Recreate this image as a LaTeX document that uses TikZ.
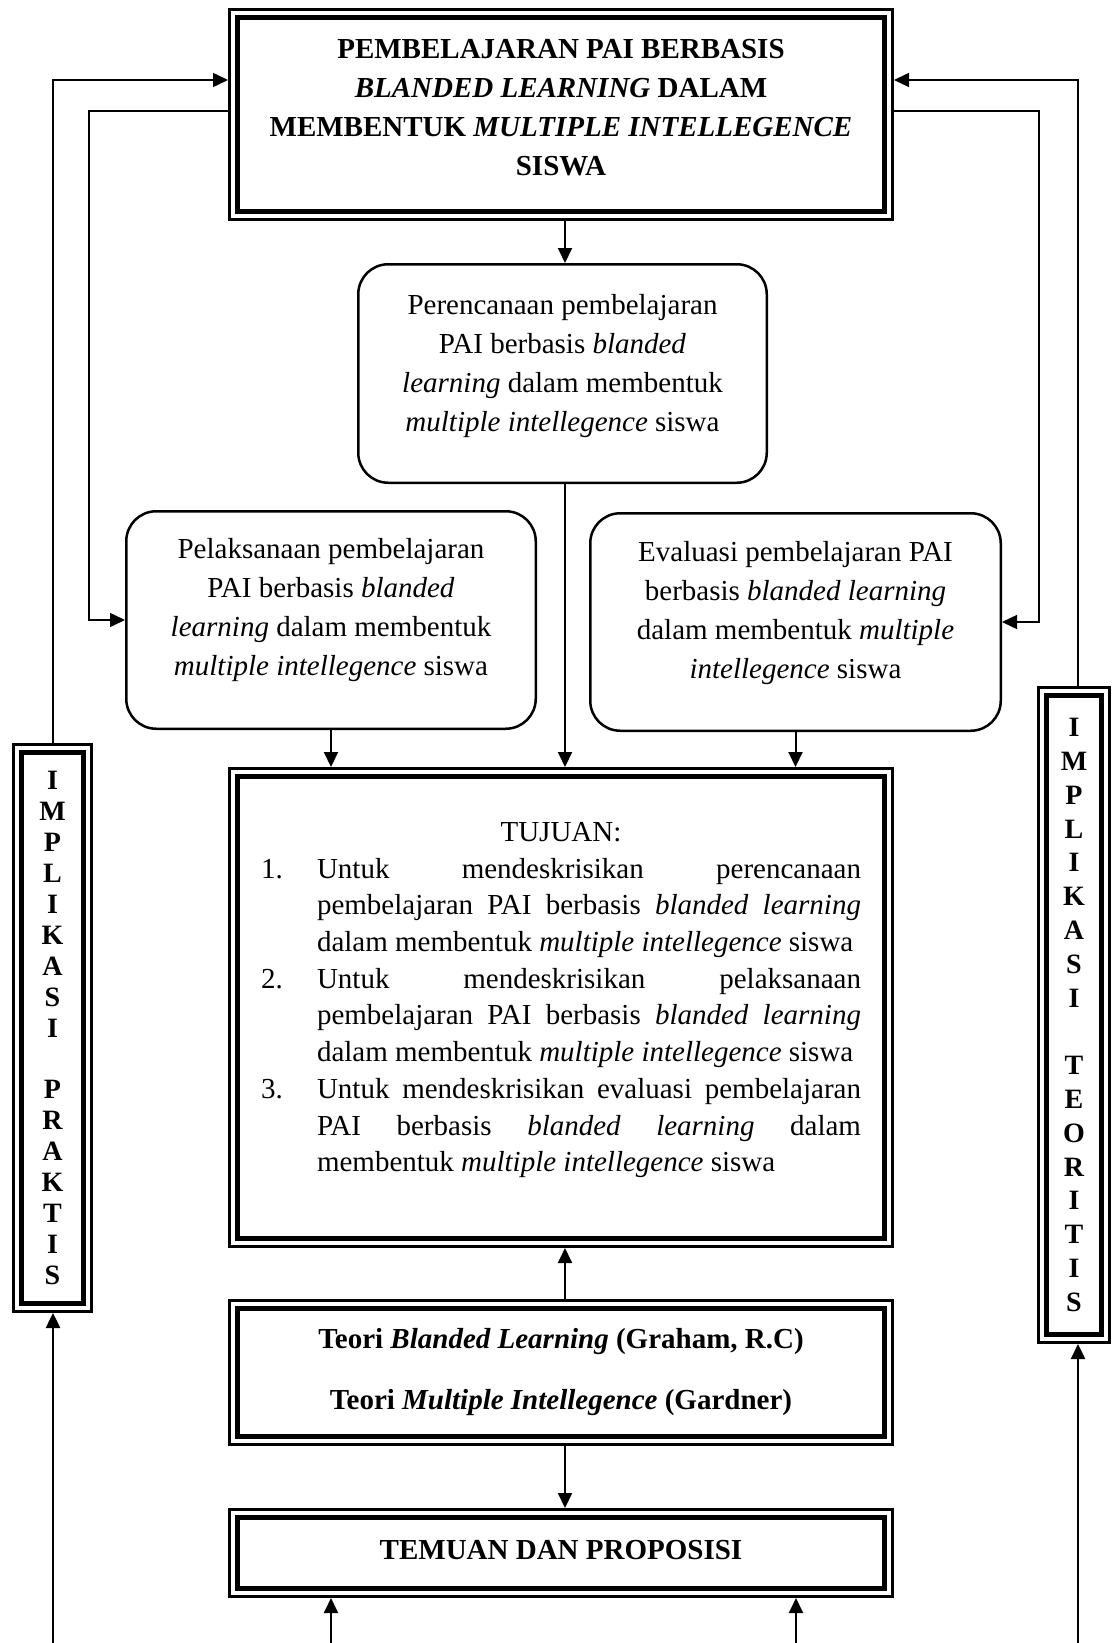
\documentclass[tikz,border=0pt]{standalone}
\usepackage{fontspec}
\setmainfont{Liberation Serif}
\usetikzlibrary{arrows.meta}
\newcommand\tjitem[1]{\par\noindent\hangindent=56pt\hangafter=1\makebox[56pt][l]{#1}\ignorespaces}
\newcommand\padb[1]{\rule[-#1pt]{0pt}{#1pt}}
\begin{document}
\begin{tikzpicture}[x=1pt, y=-1pt,
  font=\fontsize{29}{39}\selectfont,
  dbox/.style={draw, line width=4.5pt, outer sep=9.5pt, inner sep=0pt, align=center},
  rbox/.style={draw, line width=2.5pt, rounded corners=30pt, inner sep=0pt, align=center},
  tipa/.style={-{Triangle[length=15pt,width=14pt]}},
  arr/.style={line width=2pt, tipa},
  fb/.style={line width=1.5pt}]
\fill[white] (0,0) rectangle (1113,1643);
\useasboundingbox (0,0) rectangle (1113,1643);

% main boxes
\node[dbox, minimum width=647pt, minimum height=194pt, font=\fontsize{29}{39}\selectfont\bfseries] (top) at (561,114.5)
  {PEMBELAJARAN PAI BERBASIS\\ \textit{BLANDED LEARNING} DALAM\\ MEMBENTUK \textit{MULTIPLE INTELLEGENCE}\\ SISWA\padb{14}};

\node[rbox, minimum width=408.5pt, minimum height=218.5pt] (pere) at (562.5,373.5)
  {Perencanaan pembelajaran\\ PAI berbasis \textit{blanded}\\ \textit{learning} dalam membentuk\\ \textit{multiple intellegence} siswa\padb{21}};

\node[rbox, minimum width=409.5pt, minimum height=217.5pt] (pela) at (331,620)
  {Pelaksanaan pembelajaran\\ PAI berbasis \textit{blanded}\\ \textit{learning} dalam membentuk\\ \textit{multiple intellegence} siswa\padb{27}};

\node[rbox, minimum width=410.5pt, minimum height=217.5pt] (eval) at (795.5,622)
  {Evaluasi pembelajaran PAI\\ berbasis \textit{blanded learning}\\ dalam membentuk \textit{multiple}\\ \textit{intellegence} siswa\padb{25}};

\node[dbox, minimum width=647pt, minimum height=462pt] (tuj) at (561,1007.5)
  {\begin{minipage}{600pt}
   \fontsize{29}{36.7}\selectfont
   \tolerance=10000 \hyphenpenalty=10000 \exhyphenpenalty=10000 \parindent=0pt
   {\centering TUJUAN:\par}
   \tjitem{1.}Untuk mendeskrisikan perencanaan\linebreak pembelajaran PAI berbasis \textit{blanded learning}\linebreak dalam membentuk \textit{multiple intellegence} siswa
   \tjitem{2.}Untuk mendeskrisikan pelaksanaan\linebreak pembelajaran PAI berbasis \textit{blanded learning}\linebreak dalam membentuk \textit{multiple intellegence} siswa
   \tjitem{3.}Untuk mendeskrisikan evaluasi pembelajaran\linebreak PAI berbasis \textit{blanded learning} dalam\linebreak membentuk \textit{multiple intellegence} siswa\padb{21}\par
   \end{minipage}};

\node[dbox, minimum width=647pt, minimum height=128pt, font=\fontsize{29}{61}\selectfont\bfseries] (teori) at (561,1372.5)
  {Teori \textit{Blanded Learning} (Graham, R.C)\\ Teori \textit{Multiple Intellegence} (Gardner)};

\node[dbox, minimum width=647pt, minimum height=71pt, font=\fontsize{29}{39}\selectfont\bfseries] (temuan) at (561,1553)
  {TEMUAN DAN PROPOSISI\padb{6}};

\node[dbox, minimum width=62pt, minimum height=551pt, font=\fontsize{28}{30.9}\selectfont\bfseries] (limpl) at (52.5,1028)
  {I\\M\\P\\L\\I\\K\\A\\S\\I\\[30.9pt]P\\R\\A\\K\\T\\I\\S};

\node[dbox, minimum width=55pt, minimum height=639pt, font=\fontsize{28}{33.8}\selectfont\bfseries] (rimpl) at (1074,1015)
  {I\\M\\P\\L\\I\\K\\A\\S\\I\\[33.8pt]T\\E\\O\\R\\I\\T\\I\\S};

% outer lines of the double borders
\foreach \n in {top,tuj,teori,temuan,limpl,rimpl}
  \draw[line width=3pt] ([shift={(1.5pt,-1.5pt)}]\n.north west) rectangle ([shift={(-1.5pt,1.5pt)}]\n.south east);

% helper coordinates
\coordinate (ax) at (565,0);
\coordinate (ya) at (0,80);
\coordinate (yb) at (0,111);
\coordinate (xl) at (89,0);
\coordinate (xr) at (1039,0);
\coordinate (rx) at (1078,0);
\coordinate (bL) at (53,1643);
\coordinate (bR) at (1078,1643);
\coordinate (b1) at (331,1643);
\coordinate (b2) at (796,1643);

% connectors
\draw[arr] (top.south -| ax) -- (pere.north -| ax);
\draw[arr] (pere.south -| ax) -- (tuj.north -| ax);
\draw[arr] (pela.south) -- (tuj.north -| pela.south);
\draw[arr] (eval.south) -- (tuj.north -| eval.south);
\draw[arr] (teori.north -| ax) -- (tuj.south -| ax);
\draw[arr] (teori.south -| ax) -- (temuan.north -| ax);
\draw[arr] (b1) -- (b1 |- temuan.south);
\draw[arr] (b2) -- (b2 |- temuan.south);
\draw[arr, line width=2.5pt] (bL) -- (bL |- limpl.south);
\draw[arr, line width=2.5pt] (bR) -- (bR |- rimpl.south);

\draw[fb, tipa] (limpl.north -| bL) |- (top.west |- ya);
\draw[fb, tipa] (rimpl.north -| rx) |- (top.east |- ya);
\draw[fb, tipa] (top.west |- yb) -| (pela.west -| xl) -- (pela.west);
\draw[fb, tipa] (top.east |- yb) -| (eval.east -| xr) -- (eval.east);
\end{tikzpicture}
\end{document}
